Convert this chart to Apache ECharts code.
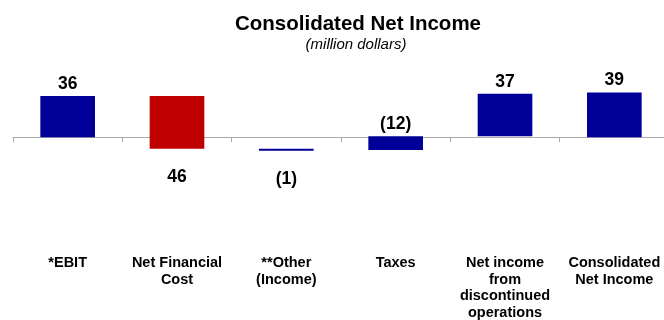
<!DOCTYPE html>
<html>
<head>
<meta charset="utf-8">
<script src="https://cdn.jsdelivr.net/npm/echarts@6/dist/echarts.min.js"></script>
<style>
html,body{margin:0;padding:0;background:#fff;}
#c{width:664px;height:320px;}
</style>
</head>
<body>
<div id="c"></div>
<script>
const categories = ['*EBIT', 'Net Financial\nCost', '**Other\n(Income)', 'Taxes', 'Net income\nfrom\ndiscontinued\noperations', 'Consolidated\nNet Income'];
const changes = [36, -46, -1, 12, 37, 39];
const isTotal = [false, false, false, false, false, true];
const valueLabels = ['36', '46', '(1)', '(12)', '37', '39'];

const FONT = "'Liberation Sans', Arial, sans-serif";
const BLUE = '#000099';
const RED = '#C00000';

// build waterfall ranges from the changes
let running = 0;
const ranges = changes.map((v, i) => {
  let low, high;
  if (isTotal[i]) { low = 0; high = v; running = v; }
  else { const start = running; running += v; low = Math.min(start, running); high = Math.max(start, running); }
  return [i, low, high, v];
});

const chart = echarts.init(document.getElementById('c'));
chart.setOption({
  animation: false,
  title: [
    { text: 'Consolidated Net Income', left: 353, top: 8, textAlign: 'center',
      textStyle: { fontFamily: FONT, fontSize: 20.5, fontWeight: 'bold', color: '#000', lineHeight: 22 } },
    { text: '(million dollars)', left: 351, top: 31, textAlign: 'center',
      textStyle: { fontFamily: FONT, fontSize: 15, fontStyle: 'italic', fontWeight: 'normal', color: '#000', lineHeight: 17 } }
  ],
  grid: { left: 13, right: -5, top: 68.5, height: 114.7, containLabel: false, outerBoundsMode: 'none' },
  xAxis: {
    type: 'category',
    data: categories,
    boundaryGap: true,
    axisLine: { onZero: true, lineStyle: { color: '#ababab', width: 1 } },
    axisTick: { show: true, length: 5, lineStyle: { color: '#ababab' } },
    axisLabel: { margin: 72, interval: 0, fontFamily: FONT, fontSize: 14.5, fontWeight: 'bold', color: '#000', lineHeight: 16.4, align: 'center', verticalAlign: 'top' },
    splitLine: { show: false }
  },
  yAxis: { type: 'value', min: -40, max: 60, show: false, splitLine: { show: false } },
  series: [{
    type: 'custom',
    clip: false,
    data: ranges,
    renderItem: function (params, api) {
      const i = params.dataIndex;
      const low = api.value(1), high = api.value(2), chg = api.value(3);
      const pTop = api.coord([i, high]);
      const pBot = api.coord([i, low]);
      const bw = api.size([1, 0])[0] * 0.5;
      const color = i === 1 ? RED : BLUE;
      const h = Math.max(pBot[1] - pTop[1], 2);
      const below = chg < 0;
      return {
        type: 'group',
        children: [
          { type: 'rect', shape: { x: pTop[0] - bw / 2, y: pTop[1], width: bw, height: h }, style: { fill: color } },
          { type: 'text', style: {
              text: valueLabels[i], x: pTop[0], y: below ? pTop[1] + h + 28 : pTop[1] - 12,
              align: 'center', verticalAlign: 'middle',
              fontFamily: FONT, fontSize: 17.5, fontWeight: 'bold', fill: '#000' } }
        ]
      };
    }
  }]
});
</script>
</body>
</html>
